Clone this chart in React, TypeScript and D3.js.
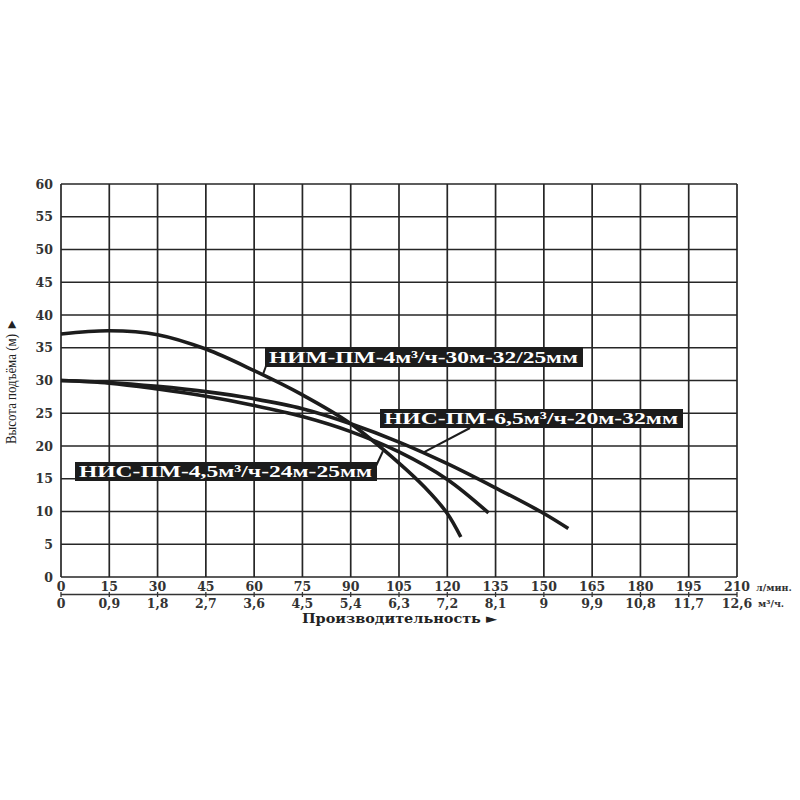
import * as d3 from "d3";

// axis ticks
const flowTicks = [0, 15, 30, 45, 60, 75, 90, 105, 120, 135, 150, 165, 180, 195, 210];
const m3Ticks = ["0", "0,9", "1,8", "2,7", "3,6", "4,5", "5,4", "6,3", "7,2", "8,1", "9", "9,9", "10,8", "11,7", "12,6"];
const headTicks = [0, 5, 10, 15, 20, 25, 30, 35, 40, 45, 50, 55, 60];

// НИМ-ПМ-4 (starts at 37 m, steepest)
const nimFlow = [0, 15, 30, 45, 60, 75, 90, 105, 113, 120, 124.2];
const nimHead = [37.1, 37.6, 37.0, 34.8, 31.5, 27.8, 23.4, 17.4, 13.7, 9.7, 6.1];

// НИС-ПМ-4,5
const nis45Flow = [0, 15, 30, 45, 60, 75, 90, 105, 120, 132.8];
const nis45Head = [30, 29.6, 28.7, 27.6, 26.2, 24.5, 22.2, 19.1, 14.9, 9.8];

// НИС-ПМ-6,5
const nis65Flow = [0, 15, 30, 45, 60, 75, 90, 105, 120, 135, 150, 157.6];
const nis65Head = [30, 29.7, 29.1, 28.3, 27.2, 25.7, 23.4, 20.6, 17.3, 13.6, 9.7, 7.4];

const labelTexts = ["НИМ-ПМ-4м³/ч-30м-32/25мм", "НИС-ПМ-6,5м³/ч-20м-32мм", "НИС-ПМ-4,5м³/ч-24м-25мм"];
// where each label's pointer touches its curve (flow, head)
const pointerFlow = [62.8, 112.5, 100];
const pointerHead = [31.0, 19.0, 19.2];

const W = 800;
const H = 800;
const left = 61;
const right = 737;
const top = 184;
const bottom = 577;

export default function App() {
  const x = d3.scaleLinear().domain([0, 210]).range([left, right]);
  const y = d3.scaleLinear().domain([0, 60]).range([bottom, top]);

  const line = d3
    .line<[number, number]>()
    .x(d => x(d[0]))
    .y(d => y(d[1]))
    .curve(d3.curveCatmullRom.alpha(0.5));

  const curves = [
    d3.zip(nimFlow, nimHead) as [number, number][],
    d3.zip(nis45Flow, nis45Head) as [number, number][],
    d3.zip(nis65Flow, nis65Head) as [number, number][],
  ];

  // label boxes
  const boxes = [
    { x0: 265, x1: 583, y0: 347, h: 20, corner: [266, 366] },
    { x0: 380, x1: 683, y0: 409, h: 19, corner: [470, 428] },
    { x0: 75, x1: 377, y0: 462, h: 19, corner: [376, 466] },
  ];

  const tickFont = "'DejaVu Serif', serif";

  return (
    <svg
      width={W}
      height={H}
      style={{ position: "absolute", left: 0, top: 0, background: "#fff" }}
    >
      {/* grid */}
      <g stroke="#262626" strokeWidth={1.7}>
        {flowTicks.map(t => (
          <line key={"v" + t} x1={x(t)} x2={x(t)} y1={y(60)} y2={y(0)} />
        ))}
        {headTicks.map(t => (
          <line key={"h" + t} x1={x(0)} x2={x(210)} y1={y(t)} y2={y(t)} />
        ))}
      </g>

      {/* y tick labels */}
      <g fontFamily={tickFont} fontWeight="bold" fontSize={12.5} fill="#333" textAnchor="end">
        {headTicks.map(t => (
          <text key={t} x={53} y={y(t) + 4.5}>
            {t}
          </text>
        ))}
      </g>

      {/* y title */}
      <text
        transform={`translate(16,${381}) rotate(-90)`}
        textAnchor="middle"
        fontFamily="'Liberation Serif', serif"
        fontSize={14}
        fill="#222"
        textLength={126}
        lengthAdjust="spacingAndGlyphs"
      >
        Высота подъёма (м) ►
      </text>

      {/* x axis rows */}
      <g fontFamily={tickFont} fontWeight="bold" fontSize={12.5} fill="#333" textAnchor="middle">
        {flowTicks.map(t => (
          <text key={"f" + t} x={x(t)} y={591}>
            {t}
          </text>
        ))}
        {m3Ticks.map((t, i) => (
          <text key={"m" + t} x={x(flowTicks[i])} y={608}>
            {t}
          </text>
        ))}
      </g>
      <g stroke="#333" strokeWidth={1.3}>
        <line x1={x(0)} x2={x(210)} y1={594.5} y2={594.5} />
        {flowTicks.map(t => (
          <line key={"t" + t} x1={x(t)} x2={x(t)} y1={592} y2={597} />
        ))}
      </g>
      <g fontFamily={tickFont} fontWeight="bold" fontSize={9.5} fill="#333">
        <text x={756} y={591}>л/мин.</text>
        <text x={758} y={607}>м³/ч.</text>
      </g>

      {/* x title */}
      <text
        x={302}
        y={623}
        fontFamily={tickFont}
        fontWeight="bold"
        fontSize={13}
        fill="#222"
        textLength={195}
        lengthAdjust="spacingAndGlyphs"
      >
        Производительность ►
      </text>

      {/* curves */}
      <g fill="none" stroke="#1c1c1c" strokeWidth={3.6} strokeLinejoin="round">
        {curves.map((c, i) => (
          <path key={i} d={line(c) ?? ""} />
        ))}
      </g>

      {/* labels */}
      {labelTexts.map((txt, i) => {
        const b = boxes[i];
        return (
          <g key={i}>
            <line
              x1={b.corner[0]}
              y1={b.corner[1]}
              x2={x(pointerFlow[i])}
              y2={y(pointerHead[i])}
              stroke="#1c1c1c"
              strokeWidth={2}
            />
            <rect x={b.x0} y={b.y0} width={b.x1 - b.x0} height={b.h} fill="#1c1c1c" />
            <text
              x={b.x0 + 4}
              y={b.y0 + b.h - 4}
              fill="#fff"
              fontFamily="'Liberation Serif', serif"
              fontWeight="bold"
              fontSize={17}
              textLength={b.x1 - b.x0 - 9}
              lengthAdjust="spacingAndGlyphs"
            >
              {txt}
            </text>
          </g>
        );
      })}
    </svg>
  );
}
